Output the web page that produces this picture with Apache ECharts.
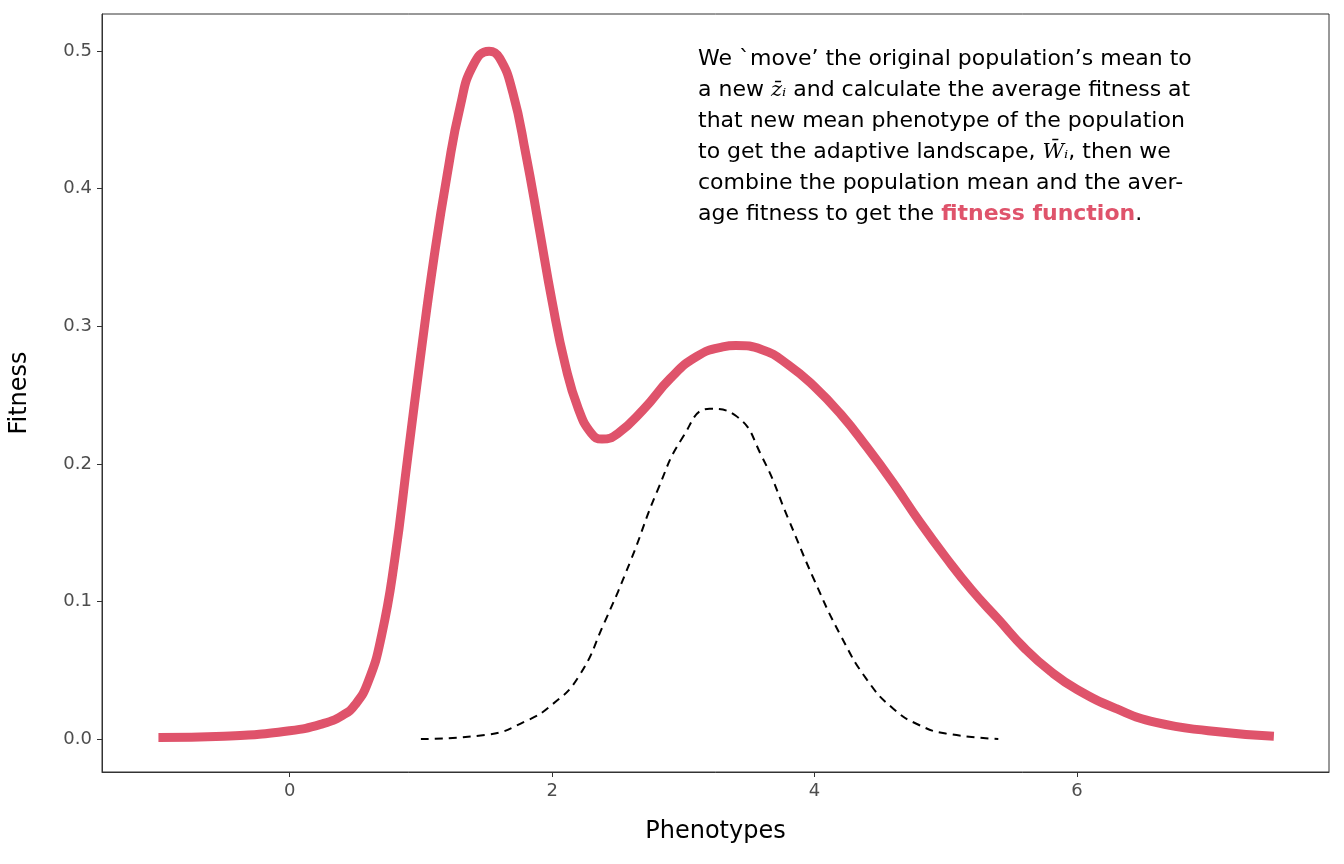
<!DOCTYPE html>
<html><head><meta charset="utf-8">
<script src="https://cdn.jsdelivr.net/npm/echarts@6/dist/echarts.min.js"></script>
<style>html,body{margin:0;padding:0;background:#fff}#c{width:1344px;height:864px}</style>
</head><body><div id="c"></div>
<script>
const fitnessX = [-1,-0.5,0,0.25,0.4,0.5,0.6,0.7,0.8,0.9,1.0,1.1,1.2,1.3,1.4,1.52,1.6,1.7,1.8,1.9,2.0,2.1,2.2,2.3,2.38,2.5,2.7,2.9,3.1,3.3,3.4,3.6,3.8,4.0,4.2,4.4,4.6,4.8,5.0,5.2,5.4,5.6,5.8,6.0,6.3,6.6,7.0,7.5];
const fitnessY = [0.001,0.002,0.006,0.011,0.017,0.025,0.042,0.075,0.13,0.205,0.28,0.35,0.41,0.46,0.49,0.5,0.495,0.47,0.425,0.372,0.318,0.272,0.24,0.222,0.218,0.222,0.24,0.262,0.278,0.285,0.286,0.283,0.272,0.256,0.236,0.212,0.186,0.158,0.132,0.108,0.087,0.066,0.049,0.036,0.022,0.012,0.006,0.002];
const popX = [1.0,1.5,1.8,2.0,2.2,2.4,2.6,2.8,3.0,3.2,3.4,3.6,3.8,4.0,4.2,4.4,4.6,4.8,5.0,5.4];
const popY = [0.0,0.003,0.013,0.025,0.045,0.085,0.13,0.18,0.22,0.24,0.235,0.205,0.16,0.115,0.075,0.043,0.022,0.01,0.004,0.0];
const xTicks = [0,2,4,6];
const yTicks = [0,0.1,0.2,0.3,0.4,0.5];
const zip = (a,b)=>a.map((v,i)=>[v,b[i]]);
const FONT = 'DejaVu Sans';
const chart = echarts.init(document.getElementById('c'));
chart.setOption({
  animation:false,
  grid:{left:101,top:14,width:1228,height:758,show:true,borderColor:'#333',borderWidth:1,backgroundColor:'#fff'},
  xAxis:{type:'value',min:-1.43,max:7.92,name:'Phenotypes',nameLocation:'middle',nameGap:48,
    nameTextStyle:{fontSize:24,color:'#000',fontFamily:FONT},
    splitLine:{show:false},axisLine:{show:true,onZero:false,lineStyle:{color:'#333',width:1}},
    axisTick:{show:true,length:5,lineStyle:{color:'#333'},customValues:xTicks},
    axisLabel:{fontSize:18,color:'#4d4d4d',fontFamily:FONT,margin:10,customValues:xTicks}},
  yAxis:{type:'value',min:-0.024,max:0.527,name:'Fitness',nameLocation:'middle',nameGap:70,
    nameTextStyle:{fontSize:24,color:'#000',fontFamily:FONT},
    splitLine:{show:false},axisLine:{show:true,onZero:false,lineStyle:{color:'#333',width:1}},
    axisTick:{show:true,length:5,lineStyle:{color:'#333'},customValues:yTicks},
    axisLabel:{fontSize:18,color:'#4d4d4d',fontFamily:FONT,margin:10,customValues:yTicks,formatter:v=>v.toFixed(1)}},
  series:[
    {type:'line',data:zip(popX,popY),smooth:0.5,showSymbol:false,lineStyle:{color:'#000',width:2,type:[8,6]}},
    {type:'line',data:zip(fitnessX,fitnessY),smooth:0.5,showSymbol:false,lineStyle:{color:'#DF536B',width:9}}
  ],
  graphic:[{type:'text',left:698,top:44,style:{
    text:'We `move\u2019 the original population\u2019s mean to\na new {i|z\u0304ᵢ} and calculate the average fitness at\nthat new mean phenotype of the population\nto get the adaptive landscape, {i|W\u0304ᵢ}, then we\ncombine the population mean and the aver-\nage fitness to get the {b|fitness function}.',
    font:'22px '+FONT,fill:'#000',lineHeight:31,
    rich:{i:{fontFamily:'DejaVu Serif',fontStyle:'italic',fontSize:21,fill:'#000',lineHeight:31},
          b:{fontWeight:'bold',fill:'#DF536B',fontSize:22,fontFamily:FONT,lineHeight:31}}}}]
});
</script></body></html>
